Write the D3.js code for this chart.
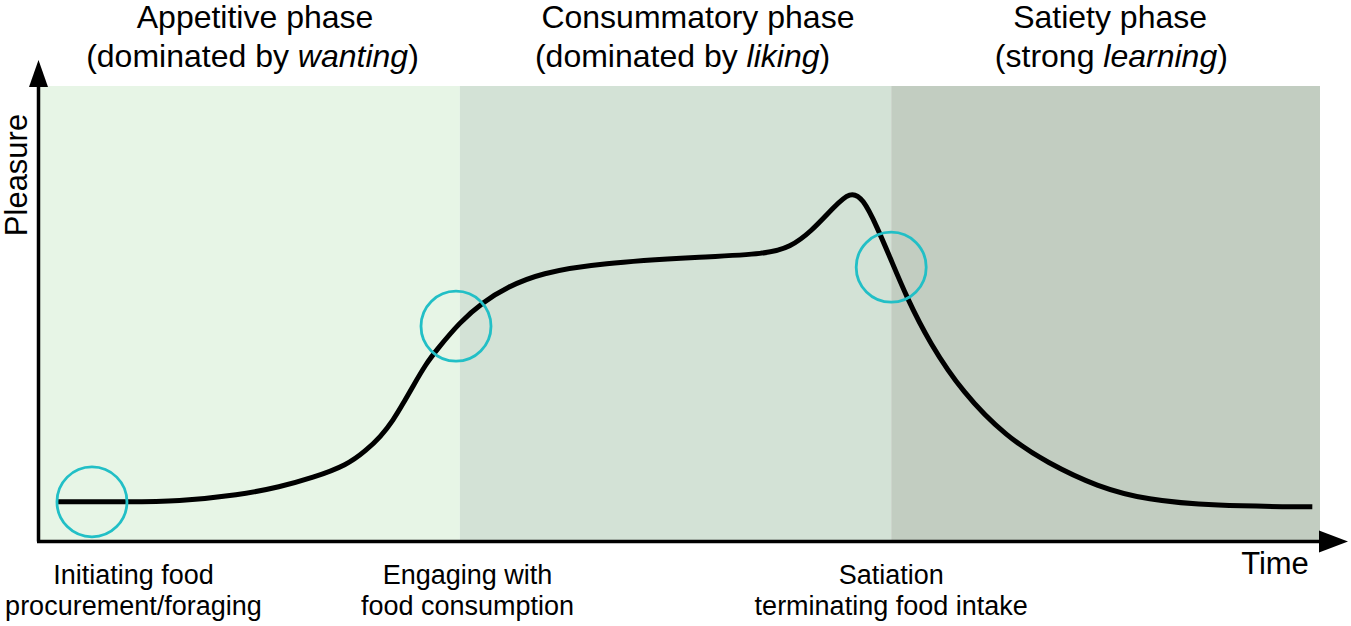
<!DOCTYPE html>
<html>
<head>
<meta charset="utf-8">
<script src="https://cdn.jsdelivr.net/npm/d3@7"></script>
<style>
  html, body { margin: 0; padding: 0; background: #fff; }
  svg { display: block; font-family: "Liberation Sans", Arial, sans-serif; }
</style>
</head>
<body>
<svg id="chart" width="1351" height="626"></svg>
<script>
// curve (time 0..100, pleasure 0..100)
const time = [1.4, 7.0, 10.7, 15.6, 18.75, 21.3, 24.0, 25.5, 26.6, 27.6, 28.4, 29.1, 30.2, 31.0, 32.8, 34.6, 36.5, 39.1, 43.75, 51.6, 56.8, 58.6, 60.2, 62.0, 63.3, 64.3, 65.4, 66.4, 67.7, 69.5, 72.1, 75.5, 78.7, 82.6, 86.5, 91.6, 99.4];
const pleasure = [8.4, 8.4, 8.5, 9.9, 11.7, 13.7, 16.5, 19.8, 22.7, 26.4, 30.2, 33.7, 39.0, 41.9, 48.0, 52.4, 55.7, 58.8, 61.0, 62.3, 63.0, 64.5, 67.8, 73.3, 76.8, 75.3, 68.9, 62.3, 53.5, 43.4, 32.4, 22.7, 17.0, 11.7, 8.8, 7.5, 7.3];

// phases
const phaseStart = [0, 32.8, 66.5];
const phaseEnd = [32.8, 66.5, 100];
const phaseColors = ["#e7f5e6", "#d3e2d6", "#c2cdc1"];
const phaseTitle = ["Appetitive phase", "Consummatory phase", "Satiety phase"];
const phaseSubPre = ["(dominated by ", "(dominated by ", "(strong "];
const phaseSubItalic = ["wanting", "liking", "learning"];
const phaseSubPost = [")", ")", ")"];
const titleT = [16.8, 51.4, 83.6];
const subT = [16.6, 50.2, 83.7];

// key moments (circles) and their labels
const eventT = [4.06, 32.5, 66.5];
const eventP = [8.4, 47.1, 60.1];
const eventLine1 = ["Initiating food", "Engaging with", "Satiation"];
const eventLine2 = ["procurement/foraging", "food consumption", "terminating food intake"];
const eventLabelT = [7.3, 33.4, 66.5];

const svg = d3.select("#chart");
const x = d3.scaleLinear().domain([0, 100]).range([40, 1320]);
const y = d3.scaleLinear().domain([0, 100]).range([540, 86]);

// backgrounds
svg.append("g").selectAll("rect")
  .data(phaseStart)
  .join("rect")
  .attr("x", (d) => x(d))
  .attr("y", y(100))
  .attr("width", (d, i) => x(phaseEnd[i]) - x(d))
  .attr("height", y(0) - y(100))
  .attr("fill", (d, i) => phaseColors[i]);

// axes with arrow heads
const axes = svg.append("g");
axes.append("line")
  .attr("x1", x(0) - 1.5).attr("x2", x(0) - 1.5)
  .attr("y1", y(0) + 1.5).attr("y2", y(100))
  .attr("stroke", "#000").attr("stroke-width", 3.5);
axes.append("line")
  .attr("x1", x(0) - 3).attr("x2", x(100))
  .attr("y1", y(0) + 1.5).attr("y2", y(0) + 1.5)
  .attr("stroke", "#000").attr("stroke-width", 3.5);
axes.append("path")
  .attr("d", `M${x(0) - 1.5},${y(100) - 26} L${x(0) - 11},${y(100) + 1} L${x(0) + 8},${y(100) + 1} Z`)
  .attr("fill", "#000");
axes.append("path")
  .attr("d", `M${x(100) + 28},${y(0) + 1.5} L${x(100) - 1},${y(0) - 9.5} L${x(100) - 1},${y(0) + 12.5} Z`)
  .attr("fill", "#000");

// pleasure curve
const line = d3.line()
  .x((d) => x(d))
  .y((d, i) => y(pleasure[i]))
  .curve(d3.curveBasis);

svg.append("path")
  .datum(time)
  .attr("d", line)
  .attr("fill", "none")
  .attr("stroke", "#000")
  .attr("stroke-width", 5)
  .attr("stroke-linejoin", "round");

// circles
svg.append("g").selectAll("circle")
  .data(eventT)
  .join("circle")
  .attr("cx", (d) => x(d))
  .attr("cy", (d, i) => y(eventP[i]))
  .attr("r", 35)
  .attr("fill", "none")
  .attr("stroke", "#22bfc6")
  .attr("stroke-width", 2.8);

// phase titles
const titles = svg.append("g").attr("font-size", 32).attr("fill", "#000").attr("text-anchor", "middle");
titles.selectAll("text.t1")
  .data(phaseTitle)
  .join("text")
  .attr("class", "t1")
  .attr("x", (d, i) => x(titleT[i]))
  .attr("y", 28)
  .text((d) => d);
const sub = titles.selectAll("text.t2")
  .data(phaseSubPre)
  .join("text")
  .attr("class", "t2")
  .attr("x", (d, i) => x(subT[i]))
  .attr("y", 67);
sub.append("tspan").text((d) => d);
sub.append("tspan").attr("font-style", "italic").text((d, i) => phaseSubItalic[i]);
sub.append("tspan").text((d, i) => phaseSubPost[i]);

// event labels
const labels = svg.append("g").attr("font-size", 27).attr("fill", "#000").attr("text-anchor", "middle");
labels.selectAll("text.l1")
  .data(eventLine1)
  .join("text")
  .attr("class", "l1")
  .attr("x", (d, i) => x(eventLabelT[i]))
  .attr("y", 584)
  .text((d) => d);
labels.selectAll("text.l2")
  .data(eventLine2)
  .join("text")
  .attr("class", "l2")
  .attr("x", (d, i) => x(eventLabelT[i]))
  .attr("y", 615)
  .text((d) => d);

// axis titles
svg.append("text")
  .attr("x", 1275).attr("y", 574)
  .attr("text-anchor", "middle")
  .attr("font-size", 31)
  .attr("fill", "#000")
  .text("Time");
svg.append("text")
  .attr("transform", `translate(27, ${(y(0) + y(100)) / 2 - 138}) rotate(-90)`)
  .attr("text-anchor", "middle")
  .attr("font-size", 31)
  .attr("fill", "#000")
  .text("Pleasure");
</script>
</body>
</html>
